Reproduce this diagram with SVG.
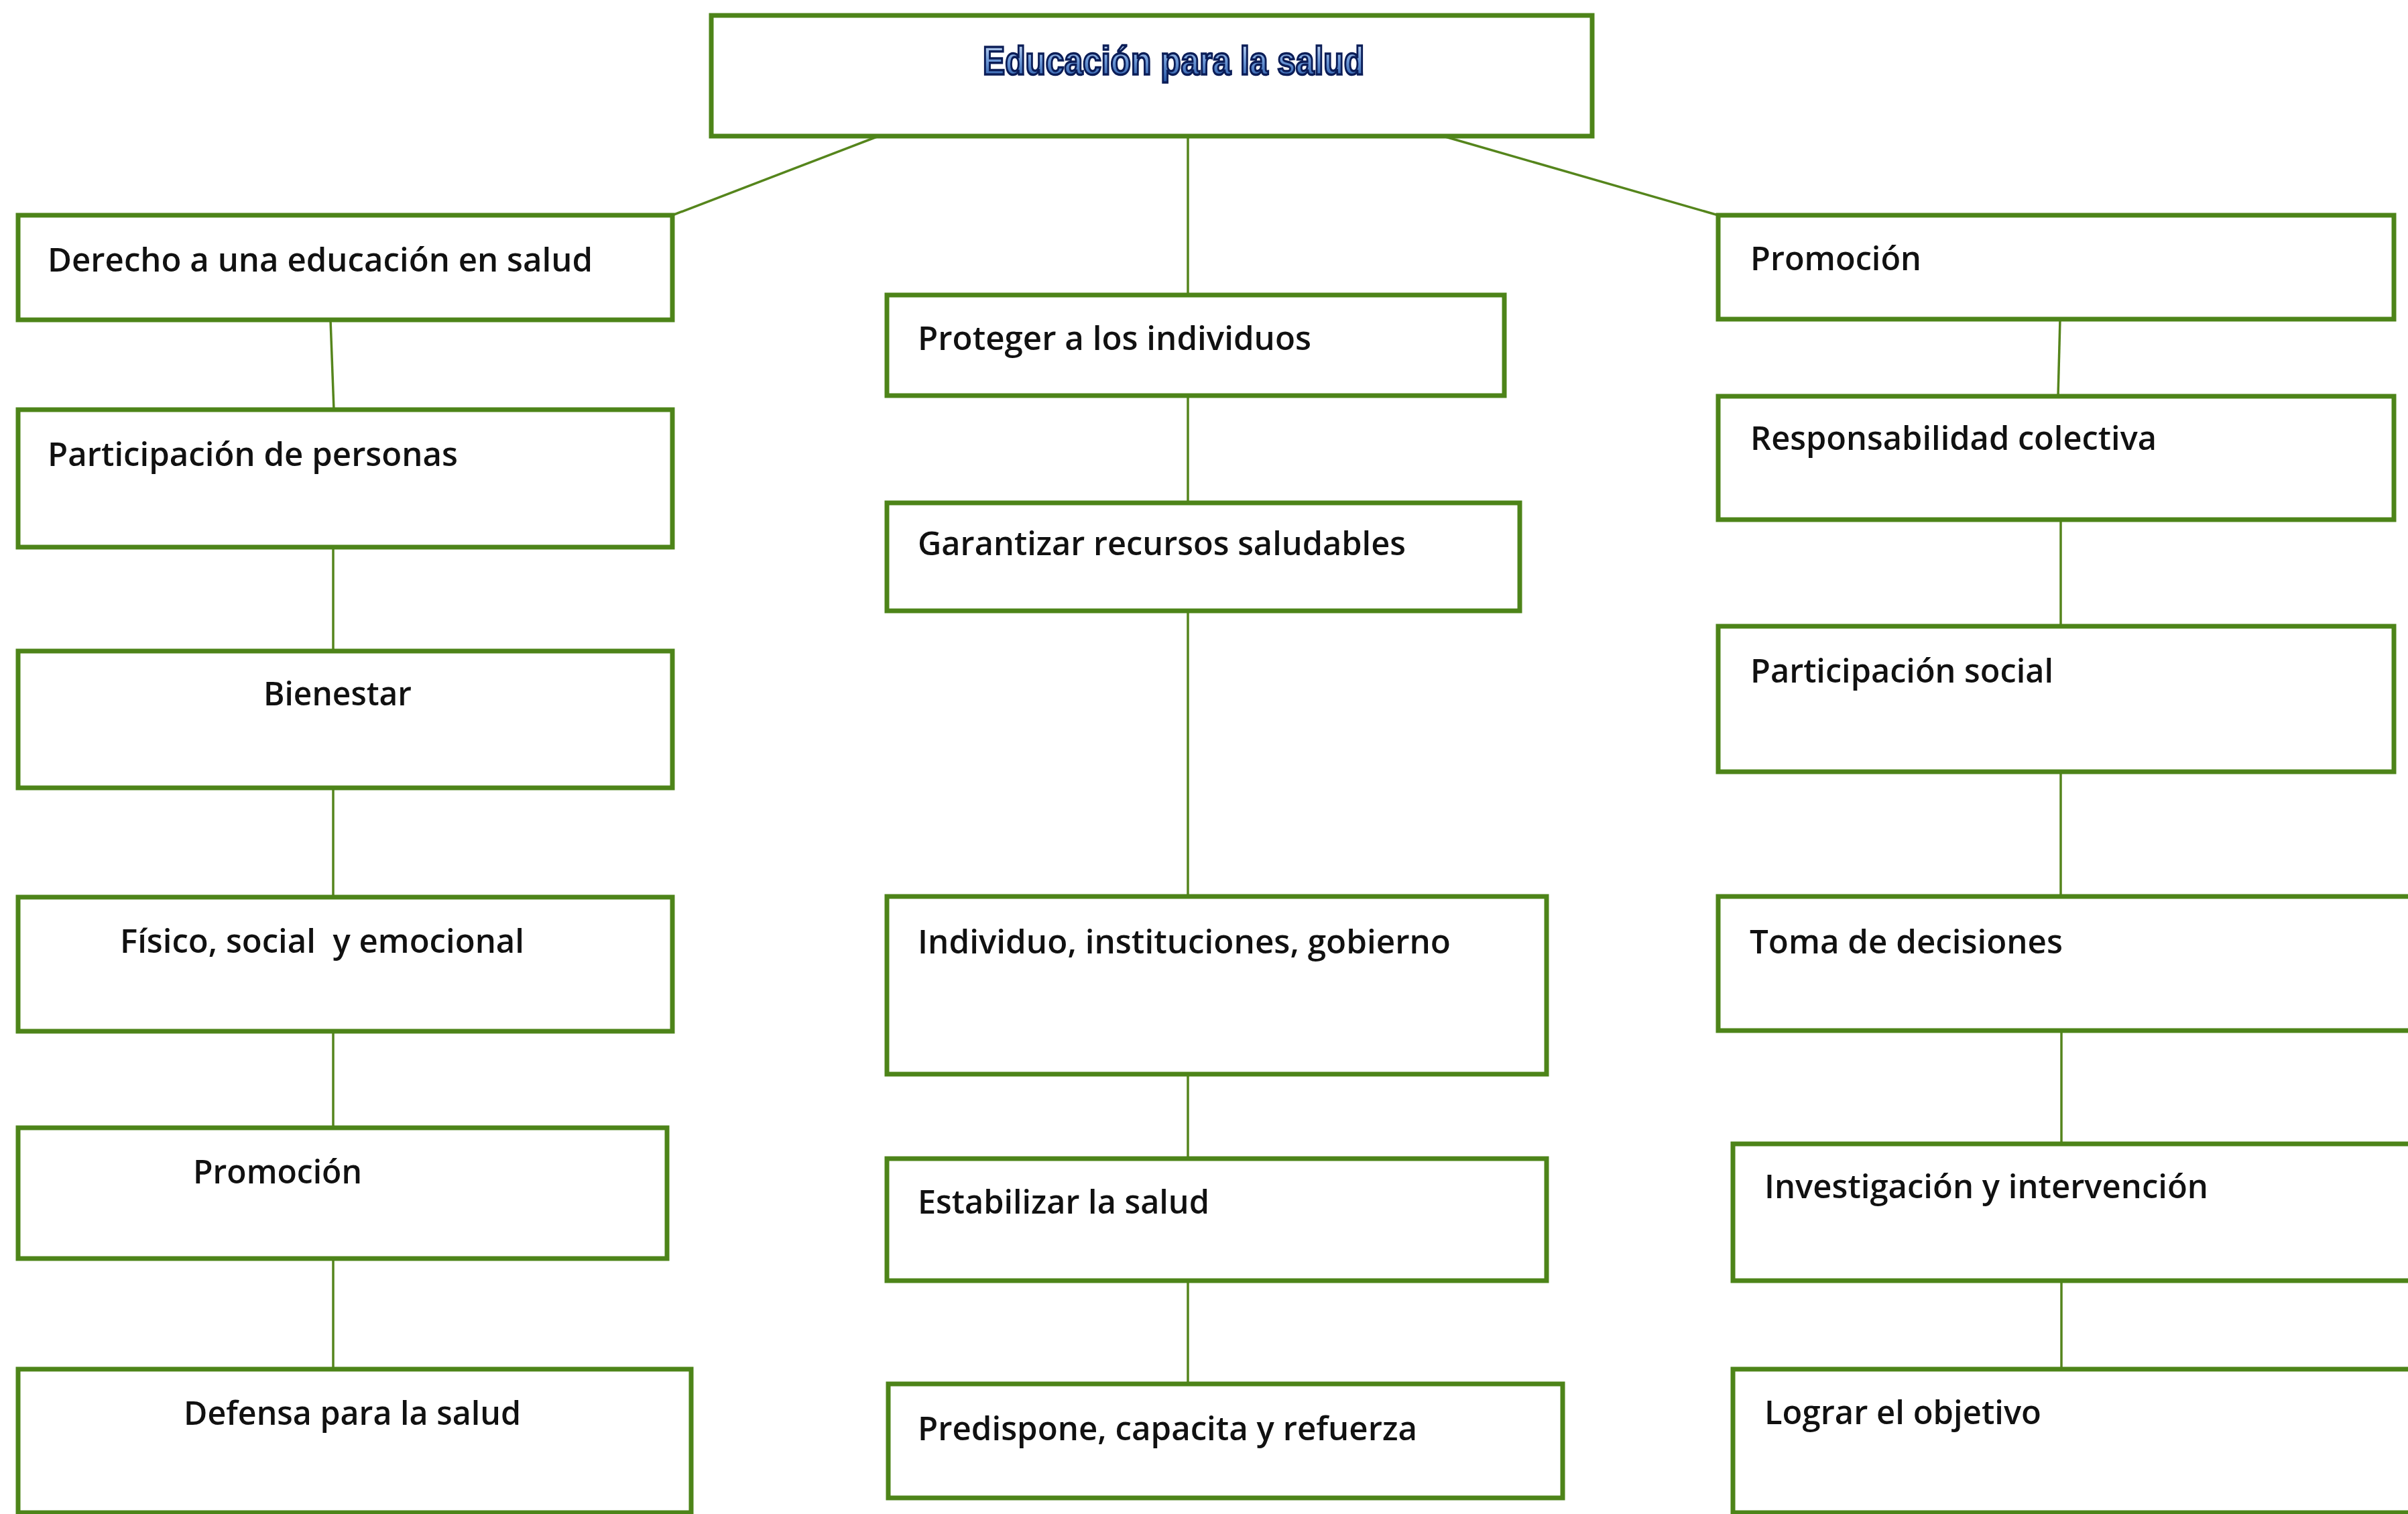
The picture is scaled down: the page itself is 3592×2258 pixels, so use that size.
<svg xmlns="http://www.w3.org/2000/svg" width="3592" height="2258" viewBox="0 0 3592 2258">
<style>
.box{fill:#ffffff;stroke:#4d8419;stroke-width:7;}
.lbl{font-family:"Open Sans","Liberation Sans",sans-serif;font-size:49px;font-weight:600;fill:#111111;}
.con{stroke:#55851c;stroke-width:3.5;fill:none;}
.title{font-family:"Liberation Sans","DejaVu Sans",sans-serif;font-weight:bold;font-size:60px;fill:url(#tg);stroke:#0b1d57;stroke-width:3.5;}
</style>
<defs>
<linearGradient id="tg" x1="0" y1="0" x2="0" y2="1">
<stop offset="0" stop-color="#dbe8fa"/>
<stop offset="0.5" stop-color="#6f9ad8"/>
<stop offset="1" stop-color="#1f4f9e"/>
</linearGradient>
</defs>
<rect x="0" y="0" width="3592" height="2258" fill="#ffffff"/>

<g id="connectors">
<line class="con" x1="1308" y1="204" x2="1003" y2="321"/>
<line class="con" x1="1772" y1="204" x2="1772" y2="440"/>
<line class="con" x1="2156" y1="204" x2="2563" y2="321"/>
<line class="con" x1="493" y1="477" x2="498" y2="611"/>
<line class="con" x1="497" y1="816" x2="497" y2="971"/>
<line class="con" x1="497" y1="1175" x2="497" y2="1338"/>
<line class="con" x1="497" y1="1538" x2="497" y2="1682"/>
<line class="con" x1="497" y1="1877" x2="497" y2="2042"/>
<line class="con" x1="1772" y1="590" x2="1772" y2="750"/>
<line class="con" x1="1772" y1="911" x2="1772" y2="1337"/>
<line class="con" x1="1772" y1="1602" x2="1772" y2="1728"/>
<line class="con" x1="1772" y1="1910" x2="1772" y2="2064"/>
<line class="con" x1="3073" y1="476" x2="3070" y2="591"/>
<line class="con" x1="3074" y1="775" x2="3074" y2="934"/>
<line class="con" x1="3074" y1="1151" x2="3074" y2="1337"/>
<line class="con" x1="3075" y1="1537" x2="3075" y2="1706"/>
<line class="con" x1="3075" y1="1910" x2="3075" y2="2042"/>
</g>

<g id="n-title">
<rect class="box" x="1061" y="23" width="1314" height="180" stroke-width="8"/>
<text class="title" x="1466" y="111" textLength="569" lengthAdjust="spacingAndGlyphs">Educación para la salud</text>
</g>

<g id="n-derecho">
<rect class="box" x="27" y="321" width="976" height="156"/>
<text class="lbl" x="71" y="405" textLength="813" lengthAdjust="spacingAndGlyphs">Derecho a una educación en salud</text>
</g>
<g id="n-participacion-personas">
<rect class="box" x="27" y="611" width="976" height="205"/>
<text class="lbl" x="71" y="695" textLength="612" lengthAdjust="spacingAndGlyphs">Participación de personas</text>
</g>
<g id="n-bienestar">
<rect class="box" x="27" y="971" width="976" height="204"/>
<text class="lbl" x="393" y="1052" textLength="221" lengthAdjust="spacingAndGlyphs">Bienestar</text>
</g>
<g id="n-fisico">
<rect class="box" x="27" y="1338" width="976" height="200"/>
<text class="lbl" x="179" y="1421" xml:space="preserve" textLength="603" lengthAdjust="spacingAndGlyphs">Físico, social  y emocional</text>
</g>
<g id="n-promocion-izq">
<rect class="box" x="27" y="1682" width="968" height="195"/>
<text class="lbl" x="288" y="1765" textLength="252" lengthAdjust="spacingAndGlyphs">Promoción</text>
</g>
<g id="n-defensa">
<rect class="box" x="27" y="2042" width="1004" height="214"/>
<text class="lbl" x="274" y="2125" textLength="503" lengthAdjust="spacingAndGlyphs">Defensa para la salud</text>
</g>

<g id="n-proteger">
<rect class="box" x="1323" y="440" width="921" height="150"/>
<text class="lbl" x="1369" y="522" textLength="587" lengthAdjust="spacingAndGlyphs">Proteger a los individuos</text>
</g>
<g id="n-garantizar">
<rect class="box" x="1323" y="750" width="944" height="161"/>
<text class="lbl" x="1369" y="828" textLength="728" lengthAdjust="spacingAndGlyphs">Garantizar recursos saludables</text>
</g>
<g id="n-individuo">
<rect class="box" x="1323" y="1337" width="984" height="265"/>
<text class="lbl" x="1369" y="1422" textLength="795" lengthAdjust="spacingAndGlyphs">Individuo, instituciones, gobierno</text>
</g>
<g id="n-estabilizar">
<rect class="box" x="1323" y="1728" width="984" height="182"/>
<text class="lbl" x="1369" y="1810" textLength="435" lengthAdjust="spacingAndGlyphs">Estabilizar la salud</text>
</g>
<g id="n-predispone">
<rect class="box" x="1325" y="2064" width="1006" height="170"/>
<text class="lbl" x="1369" y="2148" textLength="745" lengthAdjust="spacingAndGlyphs">Predispone, capacita y refuerza</text>
</g>

<g id="n-promocion-der">
<rect class="box" x="2563" y="321" width="1008" height="155"/>
<text class="lbl" x="2611" y="403" textLength="255" lengthAdjust="spacingAndGlyphs">Promoción</text>
</g>
<g id="n-responsabilidad">
<rect class="box" x="2563" y="591" width="1008" height="184"/>
<text class="lbl" x="2611" y="671" textLength="606" lengthAdjust="spacingAndGlyphs">Responsabilidad colectiva</text>
</g>
<g id="n-participacion-social">
<rect class="box" x="2563" y="934" width="1008" height="217"/>
<text class="lbl" x="2611" y="1018" textLength="452" lengthAdjust="spacingAndGlyphs">Participación social</text>
</g>
<g id="n-toma">
<rect class="box" x="2563" y="1337" width="1060" height="200"/>
<text class="lbl" x="2610" y="1422" textLength="467" lengthAdjust="spacingAndGlyphs">Toma de decisiones</text>
</g>
<g id="n-investigacion">
<rect class="box" x="2585" y="1706" width="1040" height="204"/>
<text class="lbl" x="2632" y="1787" textLength="662" lengthAdjust="spacingAndGlyphs">Investigación y intervención</text>
</g>
<g id="n-lograr">
<rect class="box" x="2585" y="2042" width="1040" height="214"/>
<text class="lbl" x="2632" y="2124" textLength="413" lengthAdjust="spacingAndGlyphs">Lograr el objetivo</text>
</g>
</svg>
